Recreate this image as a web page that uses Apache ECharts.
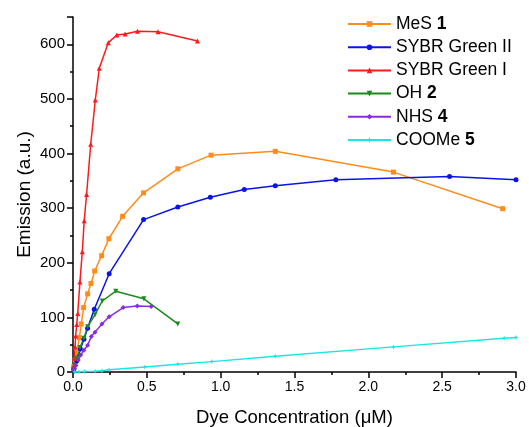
<!DOCTYPE html>
<html>
<head>
<meta charset="utf-8">
<script src="https://cdn.jsdelivr.net/npm/echarts@6/dist/echarts.min.js"></script>
<style>
html,body{margin:0;padding:0;background:#fff;}
#main{width:529px;height:427px;}
</style>
</head>
<body>
<div id="main"></div>
<script>
// 数据 (x: μM, y: a.u.)
var mes1=[[0.005,10],[0.015,22],[0.03,42],[0.043,63],[0.056,88],[0.072,118],[0.099,143],[0.122,162],[0.147,185],[0.194,213],[0.243,244],[0.336,285],[0.478,328],[0.71,372],[0.935,397],[1.37,404],[2.17,366],[2.91,299]];
var sybr2=[[0.005,5],[0.025,20],[0.05,42],[0.074,60],[0.099,80],[0.144,115],[0.245,180],[0.478,279],[0.71,302],[0.93,320],[1.16,334],[1.37,341],[1.78,352],[2.55,358],[3.0,352]];
var sybr1=[[0.005,12],[0.01,25],[0.014,46],[0.018,66],[0.025,87],[0.032,107],[0.047,165],[0.063,220],[0.076,277],[0.092,325],[0.12,417],[0.151,498],[0.178,556],[0.239,603],[0.297,617],[0.353,619],[0.437,624],[0.576,623],[0.843,606]];
var oh2=[[0.005,5],[0.012,12],[0.025,25],[0.047,45],[0.074,62],[0.099,83],[0.149,105],[0.198,130],[0.29,148],[0.48,134],[0.71,88]];
var nhs4=[[0.005,3],[0.01,6],[0.02,12],[0.036,22],[0.052,31],[0.074,40],[0.099,49],[0.124,65],[0.149,73],[0.196,88],[0.245,101],[0.34,118],[0.435,121],[0.53,120]];
var coome5=[[0.01,0],[0.04,0.5],[0.077,1],[0.15,1.5],[0.196,2.5],[0.245,4],[0.486,9],[0.71,14],[0.94,19],[1.37,29],[2.17,46],[2.92,62],[3.0,63]];

var names=['MeS 1','SYBR Green II','SYBR Green I','OH 2','NHS 4','COOMe 5'];
var colors=['#ff8c1a','#0a14e6','#ff1a1a','#1a8a1a','#8a2be2','#19e6e6'];
var symbols=['rect','circle','triangle','triangle','diamond','path://M0,-5L1.5,-1.5L5,0L1.5,1.5L0,5L-1.5,1.5L-5,0L-1.5,-1.5Z'];
var rotates=[0,0,0,180,0,0];
var allData=[mes1,sybr2,sybr1,oh2,nhs4,coome5];

var font='Arial, "Liberation Sans", sans-serif';
var myChart=echarts.init(document.getElementById('main'));

var series=[];
for(var i=0;i<names.length;i++){
    series.push({
        name:names[i],
        type:'line',
        data:allData[i],
        symbol:symbols[i],
        symbolRotate:rotates[i],
        symbolSize:5,
        showAllSymbol:true,
        clip:true,
        animation:false,
        lineStyle:{color:colors[i],width:1.5},
        itemStyle:{color:colors[i]}
    });
}

var option={
    backgroundColor:'#fff',
    grid:{left:73,right:13,top:17,bottom:55,outerBoundsMode:'none'},
    legend:{
        orient:'vertical',
        left:347,
        top:15,
        padding:0,
        itemWidth:43,
        itemHeight:7,
        itemGap:5.2,
        data:names,
        formatter:function(name){
            var p=name.split(' ');
            var last=p[p.length-1];
            if(/^\d$/.test(last)){
                return '{n|'+p.slice(0,-1).join(' ')+' }{b|'+last+'}';
            }
            return '{n|'+name+'}';
        },
        textStyle:{
            rich:{
                n:{fontSize:17.5,lineHeight:18,fontFamily:font,color:'#000'},
                b:{fontSize:17.5,lineHeight:18,fontFamily:font,fontWeight:'bold',color:'#000'}
            }
        }
    },
    xAxis:{
        type:'value',
        min:0,max:3,interval:0.5,
        name:'Dye Concentration (μM)',
        nameLocation:'middle',
        nameGap:36,
        nameMoveOverlap:false,
        nameTextStyle:{fontSize:18.5,fontFamily:font,color:'#000'},
        axisLine:{show:true,lineStyle:{color:'#000',width:1.5}},
        axisTick:{show:true,length:6,lineStyle:{color:'#000',width:1.5}},
        minorTick:{show:true,splitNumber:2,length:3,lineStyle:{color:'#000',width:1.5}},
        splitLine:{show:false},
        axisLabel:{fontSize:14,fontFamily:font,color:'#000',margin:8,
            formatter:function(v){return v.toFixed(1);}}
    },
    yAxis:{
        type:'value',
        min:0,max:650,interval:100,
        name:'Emission (a.u.)',
        nameLocation:'middle',
        nameGap:39,
        nameMoveOverlap:false,
        nameTextStyle:{fontSize:19,fontFamily:font,color:'#000'},
        axisLine:{show:true,lineStyle:{color:'#000',width:1.5}},
        axisTick:{show:true,length:6,lineStyle:{color:'#000',width:1.5}},
        minorTick:{show:true,splitNumber:2,length:3,lineStyle:{color:'#000',width:1.5}},
        splitLine:{show:false},
        axisLabel:{fontSize:15,fontFamily:font,color:'#000',margin:8,showMaxLabel:false}
    },
    series:series
};

myChart.setOption(option);
</script>
</body>
</html>
